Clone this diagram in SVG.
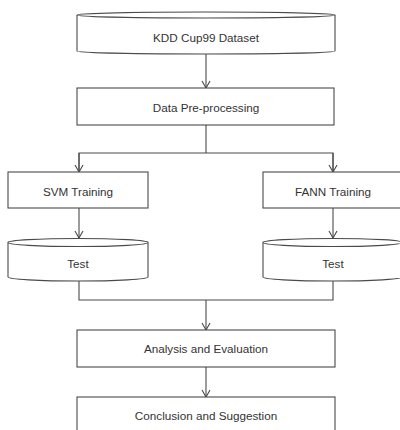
<svg xmlns="http://www.w3.org/2000/svg" width="400" height="430" viewBox="0 0 400 430">
  <defs>
    <marker id="arr" viewBox="0 0 10 10" refX="10" refY="5" markerWidth="10" markerHeight="10" markerUnits="userSpaceOnUse" orient="auto">
      <path d="M3,1 L10,5 L3,9" fill="none" stroke="#4a4a4a" stroke-width="1.1"/>
    </marker>
  </defs>
  <style>
    .shape { fill: #ffffff; stroke: #4a4a4a; stroke-width: 1.1; }
    .line { fill: none; stroke: #4a4a4a; stroke-width: 1.1; }
    .lbl { font-family: "Liberation Sans", Arial, sans-serif; font-size: 11.7px; fill: #333333; text-anchor: middle; dominant-baseline: central; }
  </style>
  <rect width="400" height="430" fill="#ffffff"/>

  <g id="connectors">
    <line class="line" x1="206" y1="54" x2="206" y2="88" marker-end="url(#arr)"/>
    <polyline class="line" points="206,125 206,153"/>
    <polyline class="line" points="79,172 79,153 333,153 333,172"/>
    <line class="line" x1="79" y1="153" x2="79" y2="172" marker-end="url(#arr)"/>
    <line class="line" x1="333" y1="153" x2="333" y2="172" marker-end="url(#arr)"/>
    <line class="line" x1="79" y1="208" x2="79" y2="238" marker-end="url(#arr)"/>
    <line class="line" x1="333" y1="208" x2="333" y2="238" marker-end="url(#arr)"/>
    <polyline class="line" points="79,281 79,300 333,300 333,281"/>
    <line class="line" x1="206" y1="300" x2="206" y2="330" marker-end="url(#arr)"/>
    <line class="line" x1="206" y1="367" x2="206" y2="397" marker-end="url(#arr)"/>
  </g>

  <g id="kdd">
    <path class="shape" d="M77,15 A129,3 0 0 1 335,15 L335,51 A129,3 0 0 1 77,51 Z"/>
    <path class="line" d="M77,15 A129,3 0 0 0 335,15"/>
    <text class="lbl" x="206" y="37">KDD Cup99 Dataset</text>
  </g>

  <g id="preprocessing">
    <rect class="shape" x="77" y="88" width="257" height="37"/>
    <text class="lbl" x="206" y="107">Data Pre-processing</text>
  </g>

  <g id="svm">
    <rect class="shape" x="8" y="172" width="140" height="36"/>
    <text class="lbl" x="78" y="191">SVM Training</text>
  </g>

  <g id="fann">
    <rect class="shape" x="263" y="172" width="140" height="36"/>
    <text class="lbl" x="333" y="191">FANN Training</text>
  </g>

  <g id="test-svm">
    <path class="shape" d="M8,242.5 A70,4 0 0 1 148,242.5 L148,277 A70,4 0 0 1 8,277 Z"/>
    <path class="line" d="M8,242.5 A70,4 0 0 0 148,242.5"/>
    <text class="lbl" x="78" y="263">Test</text>
  </g>

  <g id="test-fann">
    <path class="shape" d="M263,242.5 A70,4 0 0 1 403,242.5 L403,277 A70,4 0 0 1 263,277 Z"/>
    <path class="line" d="M263,242.5 A70,4 0 0 0 403,242.5"/>
    <text class="lbl" x="333" y="263">Test</text>
  </g>

  <g id="analysis">
    <rect class="shape" x="77" y="330" width="258" height="37"/>
    <text class="lbl" x="206" y="348">Analysis and Evaluation</text>
  </g>

  <g id="conclusion">
    <rect class="shape" x="77" y="397" width="258" height="40"/>
    <text class="lbl" x="206" y="415">Conclusion and Suggestion</text>
  </g>
</svg>
